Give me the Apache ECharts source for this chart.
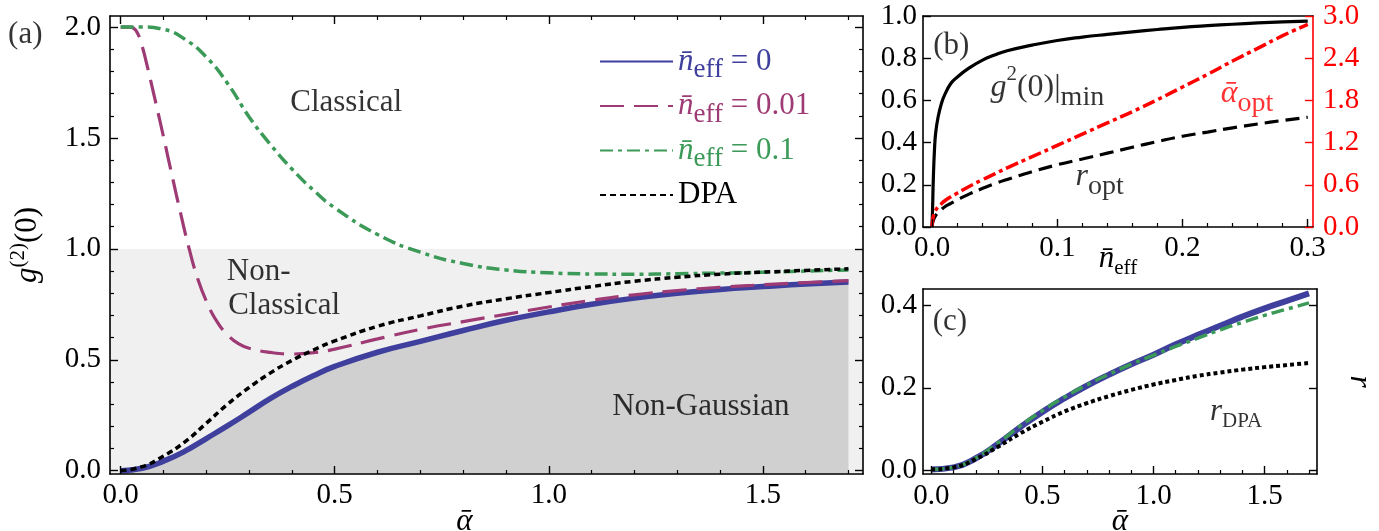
<!DOCTYPE html>
<html><head><meta charset="utf-8">
<script src="https://cdn.jsdelivr.net/npm/echarts@6.0.0/dist/echarts.min.js"></script>
<style>html,body{margin:0;padding:0;background:#fff}#c{width:1379px;height:531px}</style>
</head><body><div id="c"></div>
<script>
// ---------------- data ----------------
// panel (a): g2(0) vs alpha-bar
const alphaA    = [0,0.05,0.1,0.15,0.2,0.25,0.3,0.35,0.4,0.45,0.5,0.6,0.7,0.8,0.9,1.0,1.1,1.2,1.3,1.4,1.5,1.6,1.7];
const g2Neff0   = [0,0.011,0.043,0.088,0.145,0.203,0.264,0.326,0.38,0.428,0.47,0.534,0.583,0.632,0.678,0.716,0.75,0.778,0.8,0.817,0.83,0.842,0.851];
const g2DPA     = [0,0.018,0.066,0.13,0.214,0.30,0.375,0.441,0.497,0.544,0.585,0.651,0.698,0.742,0.775,0.803,0.83,0.854,0.872,0.886,0.895,0.903,0.91];
const g2Neff01  = [2.0,2.0,1.99,1.945,1.865,1.745,1.595,1.47,1.36,1.265,1.185,1.065,0.985,0.934,0.905,0.892,0.887,0.886,0.888,0.891,0.895,0.9,0.905];
const alphaMag  = [0,0.02,0.03,0.04,0.05,0.06,0.08,0.1,0.12,0.14,0.16,0.18,0.2,0.225,0.25,0.275,0.3,0.35,0.4,0.45,0.5,0.6,0.7,0.8,0.9,1.0,1.1,1.2,1.3,1.4,1.5,1.6,1.7];
const g2Neff001 = [2.0,2.0,1.995,1.97,1.915,1.84,1.675,1.505,1.33,1.16,1.0,0.865,0.765,0.672,0.612,0.573,0.552,0.533,0.526,0.532,0.548,0.594,0.637,0.672,0.705,0.738,0.768,0.793,0.812,0.827,0.838,0.848,0.857];
const classicalLimit = 1.0;
// panel (b): vs n-bar_eff
const neffB     = [0,0.0005,0.001,0.002,0.003,0.005,0.0075,0.01,0.015,0.02,0.03,0.04,0.05,0.06,0.08,0.1,0.12,0.14,0.16,0.18,0.2,0.22,0.24,0.26,0.28,0.3];
const g2Min     = [0,0.1,0.22,0.37,0.45,0.525,0.585,0.625,0.68,0.71,0.755,0.79,0.815,0.835,0.862,0.884,0.9,0.913,0.925,0.936,0.946,0.954,0.961,0.967,0.972,0.976];
const rOpt      = [0,0.02,0.03,0.045,0.055,0.07,0.082,0.095,0.112,0.128,0.157,0.182,0.205,0.225,0.262,0.295,0.322,0.35,0.378,0.405,0.43,0.45,0.47,0.488,0.505,0.52];
const alphaOpt  = [0,0.1,0.15,0.2,0.24,0.29,0.33,0.37,0.43,0.48,0.58,0.67,0.755,0.84,1.0,1.16,1.32,1.48,1.64,1.81,1.99,2.17,2.36,2.54,2.72,2.88];
// panel (c): r vs alpha-bar
const alphaC    = [0,0.1,0.2,0.3,0.4,0.5,0.6,0.7,0.8,0.9,1.0,1.1,1.2,1.3,1.4,1.5,1.6,1.7];
const rNeff0    = [0.003,0.008,0.03,0.065,0.105,0.142,0.175,0.205,0.232,0.257,0.28,0.305,0.328,0.35,0.372,0.392,0.41,0.428];
const rNeff01   = [0.003,0.008,0.031,0.067,0.108,0.145,0.178,0.207,0.233,0.257,0.279,0.3,0.32,0.34,0.358,0.375,0.39,0.405];
const rDPA      = [0.003,0.008,0.028,0.058,0.09,0.118,0.143,0.163,0.18,0.195,0.208,0.219,0.229,0.237,0.244,0.25,0.255,0.26];
// ticks
const ticksAX  = [0,0.5,1.0,1.5];
const ticksAY  = [0,0.5,1.0,1.5,2.0];
const ticksBX  = [0,0.1,0.2,0.3];
const ticksBY  = [0,0.2,0.4,0.6,0.8,1.0];
const ticksBY2 = [0,0.6,1.2,1.8,2.4,3.0];
const ticksCX  = [0,0.5,1.0,1.5];
const ticksCY  = [0,0.2,0.4];
// axis ranges
const xRangeA = [-0.025,1.734], yRangeA = [-0.015,2.05];
const xRangeB = [-0.0072,0.3042], yRangeB = [0,1], y2RangeB = [0,3];
const xRangeC = [-0.038,1.736], yRangeC = [-0.008,0.4386];

// ---------------- styles ----------------
const FONT = "'Liberation Serif', 'DejaVu Serif', 'Times New Roman', serif";
const BLUE = '#3f3f9d', MAG = '#9e3a74', GREEN = '#3b9a57', RED = '#ff0000';
function mkRich(p, color, big, small, lh){
  big = big||31; small = small||21; lh = lh||40;
  const o = {};
  o[p+'i']   = {fontFamily:FONT,fontStyle:'italic',fontSize:big,lineHeight:lh,color:color};
  o[p+'n']   = {fontFamily:FONT,fontSize:big,lineHeight:lh,color:color};
  o[p+'sup'] = {fontFamily:FONT,fontSize:21,lineHeight:21,verticalAlign:'top',color:color};
  o[p+'sub'] = {fontFamily:FONT,fontSize:small,lineHeight:small,verticalAlign:'bottom',color:color};
  o[p+'ia']  = {fontFamily:FONT,fontStyle:'italic',fontSize:big,lineHeight:lh,color:color,padding:[0,44,0,0]};
  return o;
}
const RICH = Object.assign({}, mkRich('', '#000'),
  mkRich('B', '#000', 32, 28, 48), mkRich('R', RED, 32, 28, 48),
  mkRich('b', BLUE, 31, 27, 44), mkRich('m', MAG, 31, 27, 44), mkRich('g', GREEN, 31, 27, 44), mkRich('k', '#000', 31, 27, 44));

function minorsFor(range, step, majors){
  const out = [];
  const k0 = Math.ceil(range[0]/step - 1e-9), k1 = Math.floor(range[1]/step + 1e-9);
  for (let k = k0; k <= k1; k++){
    const v = +(k*step).toFixed(6);
    if (!majors.some(m => Math.abs(m - v) < 1e-9)) out.push(v);
  }
  return out;
}
const xAxes = [], yAxes = [];
function addAxis(list, o){
  const col = o.color || '#000';
  const majors = o.majors || [];
  const main = {
    type:'value', gridIndex:o.grid, position:o.pos, min:o.range[0], max:o.range[1],
    splitLine:{show:false}, splitArea:{show:false},
    axisLine:{show:true, onZero:false, lineStyle:{color:col, width:1.6}},
    axisTick:{show:majors.length>0, inside:true, length:8, customValues:majors, lineStyle:{color:col, width:1.4}},
    axisLabel:{show:!!o.labels, customValues:majors, margin:o.margin||8, color:col, fontFamily:FONT, fontSize:29,
               formatter:v => Number(v).toFixed(1)},
    name:o.name || '', nameLocation:'middle', nameGap:o.nameGap || 30, nameMoveOverlap:false,
    nameTextStyle:{rich:RICH, color:'#000'}, z:5
  };
  if (o.nameRotate !== undefined) main.nameRotate = o.nameRotate;
  const idx = list.length; list.push(main);
  if (o.minorStep){
    list.push({type:'value', gridIndex:o.grid, position:o.pos, min:o.range[0], max:o.range[1],
      splitLine:{show:false}, axisLine:{show:false, onZero:false},
      axisTick:{show:true, inside:true, length:4, customValues:minorsFor(o.range, o.minorStep, majors), lineStyle:{color:col, width:1.2}},
      axisLabel:{show:false}, z:5});
  }
  return idx;
}
// panel (a)
const xA = addAxis(xAxes, {grid:0,pos:'bottom',range:xRangeA,majors:ticksAX,minorStep:0.1,labels:true,margin:7,name:'{ia|α\u0304}',nameGap:28});
addAxis(xAxes, {grid:0,pos:'top',range:xRangeA,majors:ticksAX,minorStep:0.1});
const yA = addAxis(yAxes, {grid:0,pos:'left',range:yRangeA,majors:ticksAY,minorStep:0.1,labels:true,margin:9,name:'{i|g}{sup|(2)}{n|(0)}',nameGap:62});
addAxis(yAxes, {grid:0,pos:'right',range:yRangeA,majors:ticksAY,minorStep:0.1});
// panel (b)
const xB = addAxis(xAxes, {grid:1,pos:'bottom',range:xRangeB,majors:ticksBX,minorStep:0.02,labels:true,margin:7,name:'{i|n\u0304}{sub|eff}',nameGap:12});
addAxis(xAxes, {grid:1,pos:'top',range:xRangeB});
const yB = addAxis(yAxes, {grid:1,pos:'left',range:yRangeB,majors:ticksBY,labels:true,margin:6});
const yB2 = addAxis(yAxes, {grid:1,pos:'right',range:y2RangeB,majors:ticksBY2,labels:true,margin:10,color:RED});
// panel (c)
const xC = addAxis(xAxes, {grid:2,pos:'bottom',range:xRangeC,majors:ticksCX,minorStep:0.1,labels:true,margin:8,name:'{i|α\u0304}',nameGap:28});
addAxis(xAxes, {grid:2,pos:'top',range:xRangeC});
const yC = addAxis(yAxes, {grid:2,pos:'left',range:yRangeC,majors:ticksCY,labels:true,margin:6});
addAxis(yAxes, {grid:2,pos:'right',range:yRangeC,majors:ticksCY,name:'{i|r}',nameGap:22,nameRotate:-90});

const zip = (xs, ys) => xs.map((x, i) => [x, ys[i]]);
function line(name, xi, yi, xs, ys, color, width, type, z, extra){
  return Object.assign({type:'line', name:name, xAxisIndex:xi, yAxisIndex:yi, data:zip(xs, ys),
    showSymbol:false, symbol:'none', smooth:0.5, z:z||3, silent:true,
    lineStyle:{color:color, width:width, type:type, cap:'butt'}, itemStyle:{color:color}}, extra||{});
}
function annot(xi, yi, items){
  return {type:'scatter', xAxisIndex:xi, yAxisIndex:yi, symbolSize:0, silent:true, clip:false, z:6,
    data:items.map(a => ({value:[a[0], a[1]], label:{formatter:a[2]}})),
    label:{show:true, position:'right', distance:0, align:'left', verticalAlign:'middle', rich:RICH}};
}

const series = [
  {type:'line', xAxisIndex:xA, yAxisIndex:yA, data:[[xRangeA[0], yRangeA[0]]], showSymbol:false, symbol:'none',
   lineStyle:{opacity:0}, z:1, silent:true,
   markArea:{silent:true, itemStyle:{color:'#f0f0f0'}, data:[[{coord:[xRangeA[0], yRangeA[0]]}, {coord:[xRangeA[1], classicalLimit]}]]}},
  line('n0',   xA, yA, alphaA,   g2Neff0,   BLUE,  5.5, 'solid', 2, {areaStyle:{color:'#d0d0d0', opacity:1, origin:'start'}}),
  line('n001', xA, yA, alphaMag, g2Neff001, MAG,   3.2, [24,10], 3),
  line('n01',  xA, yA, alphaA,   g2Neff01,  GREEN, 3.5, [13,5,4,5], 3),
  line('DPA',  xA, yA, alphaA,   g2DPA,     '#000', 3.5, [6,4], 4),
  line('g2min', xB, yB,  neffB, g2Min,    '#000', 3.2, 'solid', 3),
  line('ropt',  xB, yB,  neffB, rOpt,     '#000', 3.2, [14,7], 3),
  line('aopt',  xB, yB2, neffB, alphaOpt, RED,    3.5, [13,4,4,4], 4),
  line('rc0',   xC, yC, alphaC, rNeff0,  BLUE,  6, 'solid', 2),
  line('rc01',  xC, yC, alphaC, rNeff01, GREEN, 3.5, [13,5,4,5], 3),
  line('rcdpa', xC, yC, alphaC, rDPA,    '#000', 4, [4,3], 3),
  annot(xA, yA, [
    [-0.263, 1.964, '{n|(a)}'],
    [0.396, 1.658, '{n|Classical}'],
    [0.248, 0.896, '{n|Non-}'],
    [0.251, 0.743, '{n|Classical}'],
    [1.148, 0.288, '{n|Non-Gaussian}']
  ]),
  annot(xB, yB, [
    [0.001, 0.857, '{n|(b)}'],
    [0.0466, 0.66, '{Bi|g}{Bsup|2}{Bn|(0)|}{Bsub|min}'],
    [0.1146, 0.237, '{Bi|r}{Bsub|opt}']
  ]),
  annot(xB, yB2, [
    [0.2306, 1.9, '{Ri|α\u0304}{Rsub|opt}']
  ]),
  annot(xC, yC, [
    [0.006, 0.36, '{n|(c)}'],
    [1.254, 0.141, '{i|r}{sub|DPA}']
  ])
];

const legendText = {
  n0:   '{bi|n\u0304}{bsub|eff}{bn| = 0}',
  n001: '{mi|n\u0304}{msub|eff}{mn| = 0.01}',
  n01:  '{gi|n\u0304}{gsub|eff}{gn| = 0.1}',
  DPA:  '{kn|DPA}'
};

const chart = echarts.init(document.getElementById('c'), null, {renderer:'canvas'});
chart.setOption({
  animation:false,
  backgroundColor:'#fff',
  grid:[
    {left:110, top:16, width:753, height:458, outerBoundsMode:'none'},
    {left:923, top:16, width:390, height:211, outerBoundsMode:'none'},
    {left:923, top:289, width:394, height:185, outerBoundsMode:'none'}
  ],
  xAxis:xAxes, yAxis:yAxes,
  legend:{data:['n0','n001','n01','DPA'], orient:'vertical', left:594, top:41, itemWidth:73, itemHeight:14, itemGap:7,
          selectedMode:false, formatter:n => legendText[n], textStyle:{rich:RICH},
          itemStyle:{opacity:0, borderWidth:0}},
  series:series
});
</script></body></html>
